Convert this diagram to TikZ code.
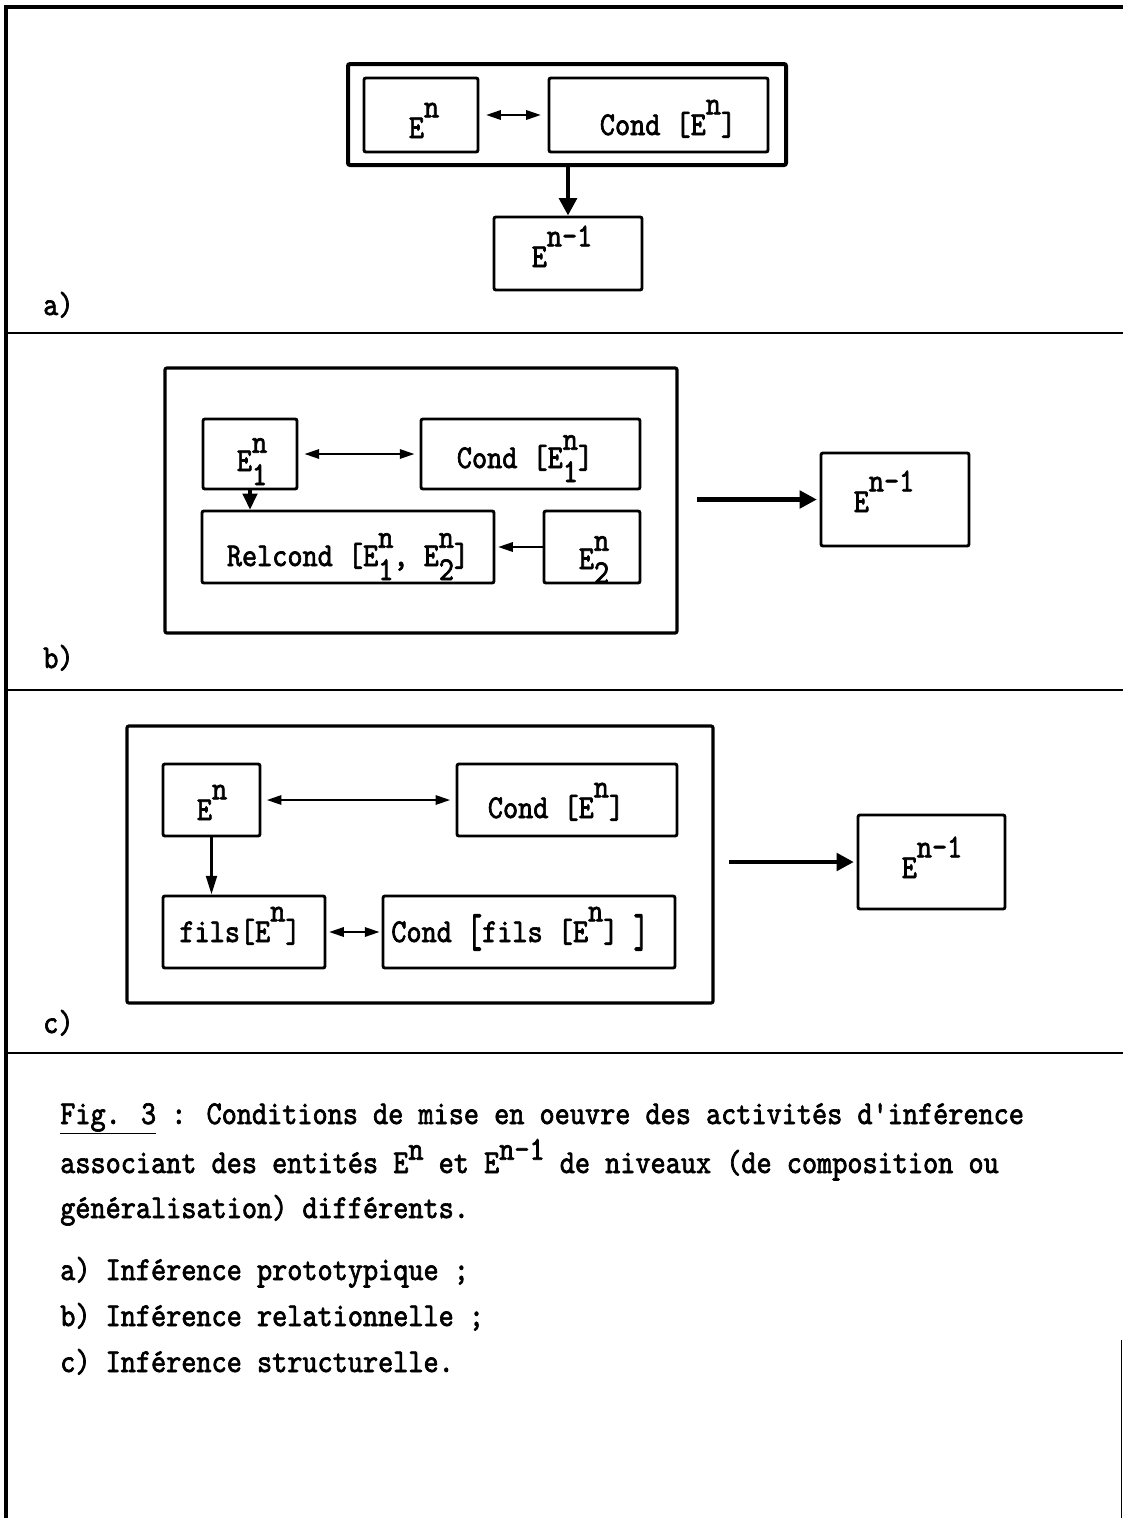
\documentclass[tikz,border=0pt]{standalone}
\usepackage{fontspec}
\newfontfamily\tw{lmmono10-regular.otf}[FakeStretch=0.865,FakeBold=2]
\usetikzlibrary{arrows.meta,fit}
\newcommand{\fsz}{\fontsize{25}{30}\selectfont}
\newcommand{\up}[1]{\raisebox{0.62em}{#1}}
\newcommand{\upc}[1]{\raisebox{0.4em}{#1}}
\newcommand{\ud}[2]{\rlap{\raisebox{0.55em}{#1}}\raisebox{-0.42em}{#2}}
\newcommand{\bigbr}[1]{\raisebox{-0.14em}{\scalebox{1}[1.4]{#1}}}
\begin{document}
\begin{tikzpicture}[x=0.75pt,y=-0.75pt,
  box/.style={draw,line width=2.2pt,rounded corners=1.5pt,inner sep=0pt},
  frame/.style={draw,line width=2.4pt,rounded corners=1.5pt,inner sep=0pt},
  lbl/.style={font=\tw\fsz,inner sep=0pt,anchor=base},
  txt/.style={font=\tw\fsz,inner sep=0pt,anchor=base west},
  arr/.style={line width=1.6pt,-{Triangle[length=11pt,width=7pt]}},
  dblarr/.style={line width=1.6pt,{Triangle[length=11pt,width=7pt]}-{Triangle[length=11pt,width=7pt]}},
  downarr/.style={line width=2.2pt,-{Triangle[length=14pt,width=8pt]}},
  fatarr/.style={line width=2.4pt,-{Triangle[length=12pt,width=11pt]}},
  bigarr/.style={line width=3.4pt,-{Triangle[length=13pt,width=13pt]}},
  rule/.style={line width=1.6pt},
]
\useasboundingbox (0,0) rectangle (1123,1518);

% outer frame and separators
\coordinate (fbl) at (6,1518);
\coordinate (ftl) at (6,7);
\coordinate (ftr) at (1123,7);
\draw[line width=2.8pt] (fbl) -- (ftl) -- (ftr);
\coordinate (s1l) at (6,333);   \coordinate (s1r) at (1123,333);
\coordinate (s2l) at (6,690);   \coordinate (s2r) at (1123,690);
\coordinate (s3l) at (6,1053);  \coordinate (s3r) at (1123,1053);
\draw[rule] (s1l) -- (s1r);
\draw[rule] (s2l) -- (s2r);
\draw[rule] (s3l) -- (s3r);
\coordinate (rt) at (1121,1340); \coordinate (rb) at (1121,1518);
\draw[line width=0.6pt] (rt) -- (rb);

% ---------- panel a ----------
\node[frame,line width=3pt,fit={(348,64) (786,165)}] (A) {};
\node[box,fit={(364,78) (478,152)}] (enA) {};
\node[box,fit={(549,78) (768,152)}] (condA) {};
\node[box,fit={(494,217) (642,290)}] (enmA) {};
\node[lbl] (tenA) at (424,138) {E\up{n}};
\node[lbl] (tcondA) at (668,135) {Cond [E\up{n}]};
\node[lbl] (tenmA) at (562,267) {E\up{n-1}};
\draw[dblarr,shorten <=5pt,shorten >=5pt] (enA.east) -- (condA.west);
\draw[bigarr] (A.south -| enmA.north) -- (enmA.north);
\node[txt] (la) at (43,315) {a)};

% ---------- panel b ----------
\node[frame,fit={(165,368) (677,633)}] (B) {};
\node[box,fit={(203,419) (297,489)}] (e1B) {};
\node[box,fit={(421,419) (640,489)}] (condB) {};
\node[box,fit={(202,511) (494,583)}] (relB) {};
\node[box,fit={(544,511) (640,583)}] (e2B) {};
\node[box,fit={(821,453) (969,546)}] (enmB) {};
\node[lbl] (te1B) at (252,471) {E\ud{n}{1}};
\node[lbl] (tcondB) at (525,468) {Cond [E\ud{n}{1}]};
\node[lbl] (trelB) at (348,566) {Relcond [E\ud{n}{1}, E\ud{n}{2}]};
\node[lbl] (te2B) at (594,569) {E\ud{n}{2}};
\node[lbl] (tenmB) at (884,512) {E\up{n-1}};
\draw[dblarr,shorten <=4.5pt,shorten >=3.8pt] (e1B.east) -- (condB.west);
\draw[fatarr] (e1B.south) -- (e1B.south |- relB.north);
\draw[arr,shorten >=2pt] (e2B.west) -- (e2B.west -| relB.east);
\coordinate (bstart) at (697,499.5);
\draw[bigarr,shorten >=2pt] (bstart) -- (enmB.west);
\node[txt] (lb) at (43,668) {b)};

% ---------- panel c ----------
\node[frame,fit={(127,726) (713,1003)}] (C) {};
\node[box,fit={(163,764) (260,836)}] (enC) {};
\node[box,fit={(457,764) (677,836)}] (condC) {};
\node[box,fit={(163,896) (325,968)}] (filsC) {};
\node[box,fit={(383,896) (675,968)}] (condfilsC) {};
\node[box,fit={(858,815) (1005,909)}] (enmC) {};
\node[lbl] (tenC) at (212,820) {E\up{n}};
\node[lbl] (tcondC) at (556,818) {Cond [E\up{n}]};
\node[lbl] (tfilsC) at (240,942) {fils[E\up{n}]};
\node[lbl] (tcondfilsC) at (520,942) {Cond \bigbr{[}fils [E\up{n}] \bigbr{]}};
\node[lbl] (tenmC) at (932,878) {E\up{n-1}};
\draw[dblarr,shorten <=4pt,shorten >=4pt] (enC.east) -- (condC.west);
\draw[dblarr,shorten <=2pt,shorten >=1.5pt] (filsC.east) -- (condfilsC.west);
\draw[downarr] (enC.south) -- (enC.south |- filsC.north);
\coordinate (cstart) at (729,862);
\draw[bigarr,shorten >=2pt] (cstart) -- (enmC.west);
\node[txt] (lc) at (43,1033) {c)};

% ---------- caption ----------
\node[txt] (cap1) at (60,1124) {\underline{Fig. 3} : Conditions de mise en oeuvre des activités d'inférence};
\node[txt] (cap2) at (60,1173) {associant des entités E\upc{n} et E\upc{n-1} de niveaux (de composition ou};
\node[txt] (cap3) at (60,1218) {généralisation) différents.};
\node[txt] (cap4) at (60,1280) {a) Inférence prototypique ;};
\node[txt] (cap5) at (60,1326) {b) Inférence relationnelle ;};
\node[txt] (cap6) at (60,1372) {c) Inférence structurelle.};
\end{tikzpicture}
\end{document}
